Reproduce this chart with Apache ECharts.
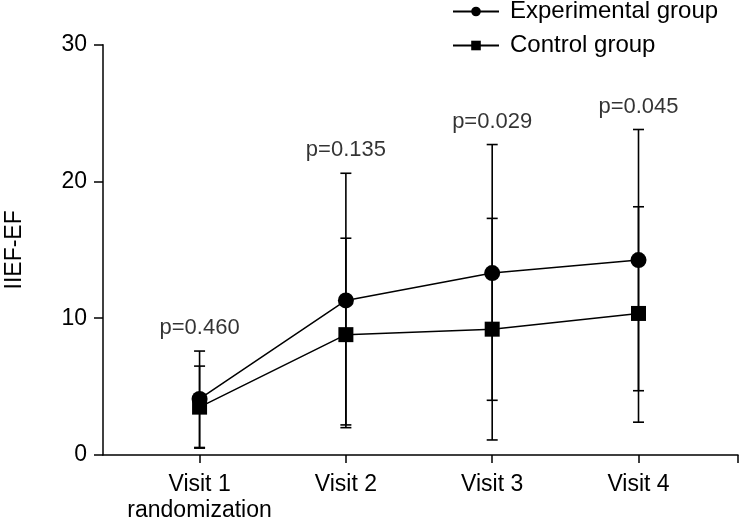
<!DOCTYPE html>
<html>
<head>
<meta charset="utf-8">
<script src="https://cdn.jsdelivr.net/npm/echarts@6/dist/echarts.min.js"></script>
<style>html,body{margin:0;padding:0;background:#fff}#c{width:743px;height:521px}</style>
</head>
<body>
<div id="c"></div>
<script>
// ---- data ----
const visitX = [1, 2, 3, 4];
const visitLabels = ['Visit 1\nrandomization', 'Visit 2', 'Visit 3', 'Visit 4'];
const expMean = [4.1, 11.3, 13.3, 14.25];
const expLow = [0.55, 2.0, 4.0, 4.7];
const expHigh = [7.6, 20.6, 22.7, 23.8];
const ctrlMean = [3.5, 8.8, 9.2, 10.35];
const ctrlLow = [0.5, 2.2, 1.1, 2.4];
const ctrlHigh = [6.5, 15.85, 17.3, 18.15];
const pLabels = ['p=0.460', 'p=0.135', 'p=0.029', 'p=0.045'];
const yTicks = [0, 10, 20, 30];

const FONT = "'Liberation Sans', Arial, Helvetica, sans-serif";
const chart = echarts.init(document.getElementById('c'), null, {renderer: 'canvas'});

function errItem(params, api) {
  const x = api.value(0), lo = api.value(1), hi = api.value(2);
  const a = api.coord([x, lo]), b = api.coord([x, hi]);
  const hw = 5.5;
  const style = {stroke: '#000', lineWidth: 1.6, fill: null};
  return {type: 'group', children: [
    {type: 'line', shape: {x1: a[0], y1: a[1], x2: b[0], y2: b[1]}, style: style},
    {type: 'line', shape: {x1: a[0] - hw, y1: a[1], x2: a[0] + hw, y2: a[1]}, style: style},
    {type: 'line', shape: {x1: b[0] - hw, y1: b[1], x2: b[0] + hw, y2: b[1]}, style: style}
  ]};
}

const option = {
  animation: false,
  backgroundColor: '#fff',
  textStyle: {fontFamily: FONT, color: '#000'},
  grid: {left: 103, right: 5, top: 44.7, bottom: 66, containLabel: false, outerBoundsMode: 'none'},
  legend: {
    orient: 'vertical', left: 447, top: -6,
    itemWidth: 46, itemHeight: 12, itemGap: 9,
    textStyle: {fontFamily: FONT, fontSize: 24, color: '#000', lineHeight: 25, padding: [0, 0, 0, 6]},
    data: ['Experimental group', 'Control group']
  },
  xAxis: {
    type: 'value', min: 0.34, max: 4.68,
    axisLine: {show: true, onZero: false, lineStyle: {color: '#000', width: 1.5}},
    axisTick: {show: true, length: 8, customValues: visitX.concat([4.68]), lineStyle: {color: '#000', width: 1.5}},
    axisLabel: {
      customValues: visitX, margin: 17,
      fontFamily: FONT, fontSize: 23, color: '#000', lineHeight: 26,
      formatter: function (v) { return visitLabels[Math.round(v) - 1]; }
    },
    splitLine: {show: false}
  },
  yAxis: {
    type: 'value', min: 0, max: 30, interval: 10,
    name: 'IIEF-EF', nameLocation: 'middle', nameRotate: 90, nameGap: 77,
    nameTextStyle: {fontFamily: FONT, fontSize: 23, color: '#000'},
    axisLine: {show: true, lineStyle: {color: '#000', width: 1.5}},
    axisTick: {show: true, length: 9, lineStyle: {color: '#000', width: 1.5}},
    axisLabel: {margin: 16, fontFamily: FONT, fontSize: 23, color: '#000',
      formatter: function (v) { return yTicks.indexOf(v) >= 0 ? String(v) : ''; }},
    splitLine: {show: false}
  },
  series: [
    {
      type: 'custom', name: 'errExp', renderItem: errItem, z: 1,
      data: visitX.map((x, i) => [x, expLow[i], expHigh[i]]),
      encode: {x: 0, y: [1, 2]}
    },
    {
      type: 'custom', name: 'errCtrl', renderItem: errItem, z: 1,
      data: visitX.map((x, i) => [x, ctrlLow[i], ctrlHigh[i]]),
      encode: {x: 0, y: [1, 2]}
    },
    {
      type: 'line', name: 'Experimental group', z: 3,
      data: visitX.map((x, i) => [x, expMean[i]]),
      symbol: 'circle', symbolSize: 16,
      lineStyle: {color: '#000', width: 1.5},
      itemStyle: {color: '#000', borderWidth: 0}
    },
    {
      type: 'line', name: 'Control group', z: 3,
      data: visitX.map((x, i) => [x, ctrlMean[i]]),
      symbol: 'rect', symbolSize: 15,
      lineStyle: {color: '#000', width: 1.5},
      itemStyle: {color: '#000', borderWidth: 0}
    },
    {
      type: 'scatter', name: 'pvals', symbolSize: 0, z: 4,
      data: visitX.map((x, i) => [x, expHigh[i]]),
      label: {
        show: true, position: 'top', distance: 12,
        fontFamily: FONT, fontSize: 22, color: '#000',
        formatter: function (p) { return pLabels[p.dataIndex]; }
      }
    }
  ]
};
chart.setOption(option);
</script>
</body>
</html>
